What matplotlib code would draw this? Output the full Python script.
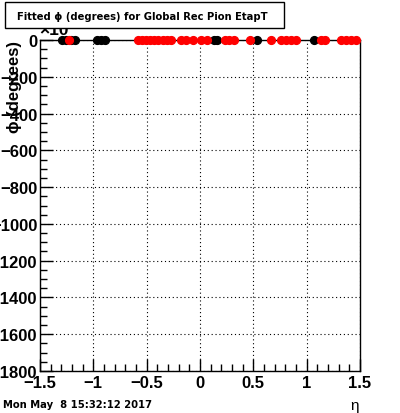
import matplotlib.pyplot as plt
import numpy as np
from matplotlib.patches import Rectangle
from matplotlib.ticker import MultipleLocator

plt.rcParams['font.family'] = ['Liberation Sans', 'DejaVu Sans']

# fitted phi vs eta (all values sit at ~0)
eta_black = [-1.29, -1.26, -1.21, -1.17, -0.97, -0.93, -0.89,
             0.13, 0.16, 0.53, 1.07]
eta_red = [-1.23,
           -0.58, -0.54, -0.51, -0.47, -0.43, -0.39, -0.35, -0.31, -0.27,
           -0.18, -0.13, -0.07, 0.01, 0.07,
           0.23, 0.27, 0.32, 0.47, 0.67,
           0.76, 0.81, 0.85, 0.90,
           1.13, 1.17,
           1.32, 1.37, 1.42, 1.46]
phi_black = [0.0] * len(eta_black)
phi_red = [0.0] * len(eta_red)

W, H = 400, 414
fig = plt.figure(figsize=(W / 100, H / 100), dpi=100)
ax = fig.add_axes([40 / W, 1 - 372 / H, 320 / W, (372 - 41) / H])

ax.plot(eta_black, phi_black, 'o', color='black', ms=5.6, mec='black', clip_on=False, zorder=5)
ax.plot(eta_red, phi_red, 'o', color='red', ms=5.6, mec='red', clip_on=False, zorder=6)

ax.set_xlim(-1.5, 1.5)
ax.set_ylim(-1800, 0)
ax.xaxis.set_major_locator(MultipleLocator(0.5))
ax.xaxis.set_minor_locator(MultipleLocator(0.1))
ax.yaxis.set_major_locator(MultipleLocator(200))
ax.yaxis.set_minor_locator(MultipleLocator(50))
ax.grid(True, which='major', color='black', linestyle=(0, (1, 2.5)), linewidth=0.8)

ax.tick_params(which='both', direction='in', top=False, right=False, width=1)
ax.tick_params(which='major', length=9)
ax.tick_params(which='minor', length=5)
ax.tick_params(axis='y', pad=2)
ax.tick_params(axis='x', pad=3)
ax.set_xticks([-1.5, -1, -0.5, 0, 0.5, 1, 1.5])
ax.set_xticklabels(['\u22121.5', '\u22121', '\u22120.5', '0', '0.5', '1', '1.5'],
                   fontsize=12, fontweight='bold')
yt = np.arange(-1800, 1, 200)
ax.set_yticks(yt)
ax.set_yticklabels(['0' if v == 0 else '\u2212%d' % -v for v in yt],
                   fontsize=12, fontweight='bold')
for s in ax.spines.values():
    s.set_linewidth(1)

# y title at top of axis
fig.text(15 / W, 1 - 41 / H, '\u03d5 (degrees)', rotation=90, ha='center', va='top',
         fontsize=12, fontweight='bold')
# x title at right end
fig.text(359 / W, 1 - 413 / H, '\u03b7', ha='right', va='bottom', fontsize=11)

# exponent label (partly hidden under title box)
fig.text(39 / W, 1 - 38 / H, '\u00d710', ha='left', va='bottom', fontsize=12.5,
         fontweight='bold', zorder=1)

# title box
fig.patches.append(Rectangle((5 / W, 1 - 29 / H), 279 / W, 26 / H, transform=fig.transFigure,
                             facecolor='white', edgecolor='black', linewidth=1, zorder=3))
fig.text(142 / W, 1 - 17 / H, 'Fitted \u03d5 (degrees) for Global Rec Pion EtapT',
         ha='center', va='center', fontsize=7.2, fontweight='bold', zorder=4,
         family=['DejaVu Sans'])

# date stamp
fig.text(3 / W, 1 - 410 / H, 'Mon May  8 15:32:12 2017', ha='left', va='bottom',
         fontsize=7.2, fontweight='bold', family=['DejaVu Sans'])

fig.savefig('out.png', dpi=100)
